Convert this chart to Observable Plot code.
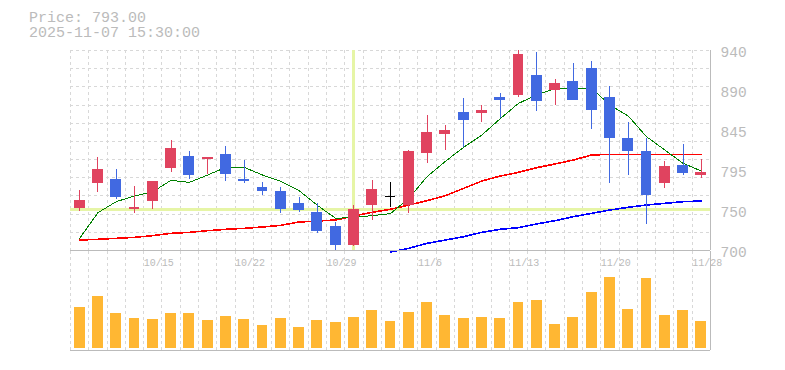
<!DOCTYPE html>
<html>
<head>
<meta charset="utf-8">
<script src="https://cdn.jsdelivr.net/npm/d3@7"></script>
<script src="https://cdn.jsdelivr.net/npm/@observablehq/plot@0.6"></script>
<style>
  html, body { margin: 0; padding: 0; background: #fff; }
  #wrap { position: relative; width: 785px; }
  #title { position: absolute; left: 29px; top: 11px; font-family: "Liberation Mono", monospace; font-size: 15px; line-height: 15px; color: #bbbbbb; white-space: pre; }
  svg { display: block; }
</style>
</head>
<body>
<div id="wrap">
  <div id="title">Price: 793.00
2025-11-07 15:30:00</div>
  <div id="price"></div>
  <div id="volume"></div>
</div>
<script>
// ---- data ----
const dates = ["10/8","10/9","10/10","10/14","10/15","10/16","10/17","10/20","10/21","10/22",
  "10/23","10/24","10/27","10/28","10/29","10/30","10/31","11/4","11/5","11/6",
  "11/7","11/10","11/11","11/12","11/13","11/14","11/17","11/18","11/19","11/20",
  "11/21","11/25","11/26","11/27","11/28"];
const open  = [750.2,780.2,785.8,749.2,758.6,798.2,813.4,809.0,815.8,785.4,
  776.2,771.4,757.0,746.2,729.4,705.8,753.8,765.4,753.8,816.6,
  839.8,866.2,864.2,884.2,885.8,910.6,892.6,903.4,919.0,884.2,
  835.0,819.4,780.2,802.6,789.8];
const close = [760.6,797.8,763.4,751.6,783.4,823.0,789.8,812.2,791.0,783.0,
  770.6,749.0,747.8,723.4,705.8,749.8,773.8,765.4,819.4,842.2,
  844.6,855.8,868.6,879.8,935.8,878.6,901.0,880.6,867.8,834.2,
  818.6,765.8,801.4,792.2,794.2];
const high  = [772.6,812.2,797.8,777.4,783.4,832.6,819.4,812.2,825.4,808.6,
  782.2,776.2,764.2,756.6,733.4,753.8,784.6,782.2,820.6,862.6,
  850.6,882.6,874.6,889.0,940.0,938.2,905.8,925.0,927.4,897.4,
  854.2,834.2,807.4,827.8,809.8];
const low   = [746.6,770.2,761.0,744.2,749.0,793.4,785.0,791.0,782.6,780.2,
  765.8,744.2,745.4,721.0,700.6,705.0,736.6,751.4,744.6,804.2,
  819.8,823.8,853.4,858.2,883.8,866.6,873.8,880.6,845.0,780.2,
  789.8,731.0,774.2,789.8,786.2];
const ma5   = [714.6,745.4,758.6,765.4,770.6,784.2,781.8,790.6,799.8,799.8,
  790.6,783.0,771.8,754.2,738.6,739.8,741.8,744.2,762.6,788.6,
  807.0,823.8,838.6,858.2,876.6,886.6,894.6,894.6,894.6,874.6,
  861.4,836.6,820.6,804.6,795.4];
const ma25  = [712.6,713.4,714.6,715.8,717.8,720.6,721.8,723.8,725.4,726.6,
  728.2,730.2,734.2,735.4,736.6,741.4,745.8,749.4,754.6,759.8,
  765.8,774.6,783.4,789.4,793.8,799.4,803.8,808.6,814.6,815.4,
  815.4,815.4,815.4,815.4,815.4];
const ma75  = [null,null,null,null,null,null,null,null,null,null,
  null,null,null,null,null,null,null,698.2,702.6,708.6,
  712.6,716.6,721.8,725.4,727.4,731.8,735.8,740.6,744.6,748.6,
  751.8,754.6,756.6,758.6,759.4];
const volume = [40.7,51.7,34.7,29.7,28.7,34.7,34.7,27.7,31.7,28.7,
  22.7,29.7,20.7,27.7,25.7,30.7,37.7,26.7,35.7,45.7,
  32.7,29.7,30.7,29.7,45.7,47.7,23.7,30.7,55.7,71.0,
  38.7,69.7,32.7,37.7,26.7]; // thousands of shares

const xTickIdx    = [4, 9, 14, 19, 24, 29, 34];
const xTickLabels = ["10/15","10/22","10/29","11/6","11/13","11/20","11/28"];
const yTickValues = [700, 748, 796, 844, 892, 940];
const yTickLabels = ["700","750","795","845","890","940"];
const yGrid = [700, 721.8, 743.6, 765.5, 787.3, 809.1, 830.9, 852.7, 874.5, 896.4, 918.2, 940];
const crossIdx = 15, crossPrice = 749.4;

// ---- table ----
const rows = dates.map((d, i) => ({
  i, date: d, open: open[i], close: close[i], high: high[i], low: low[i],
  ma5: ma5[i], ma25: ma25[i], ma75: ma75[i], volume: volume[i],
  color: close[i] > open[i] ? "#e0435f" : close[i] < open[i] ? "#4169e1" : "#000000"
}));
const xGrid = d3.range(dates.length + 1).map(k => k - 0.5);
const HW = 0.3; // half body width in index units
const gridColor = "#d8d8d8";
const frameColor = "#bbbbbb";

const xScale = {type: "linear", domain: [-0.5, dates.length - 0.5], axis: null};

const price = Plot.plot({
  width: 785, height: 251,
  marginTop: 50, marginBottom: 1, marginLeft: 70, marginRight: 75,
  x: xScale,
  y: {domain: [700, 940], axis: null},
  style: {fontFamily: "Liberation Mono, monospace", fontSize: "14.5px", color: "#bbbbbb", background: "#fff", overflow: "visible"},
  marks: [
    Plot.ruleY(yGrid, {stroke: gridColor, strokeDasharray: "3,3"}),
    Plot.ruleX(xGrid, {stroke: gridColor, strokeDasharray: "3,3"}),
    Plot.ruleX([crossIdx], {stroke: "#e6f5a6", strokeWidth: 3}),
    Plot.ruleY([crossPrice], {stroke: "#e6f5a6", strokeWidth: 3}),
    Plot.line(rows, {x: "i", y: "ma25", stroke: "#ff0000", strokeWidth: 1.6}),
    Plot.line(rows, {x: "i", y: "ma75", stroke: "#0000ff", strokeWidth: 1.6}),
    Plot.line(rows, {x: "i", y: "ma5", stroke: "#008000", strokeWidth: 1}),
    Plot.ruleX(rows, {x: "i", y1: "low", y2: "high", stroke: "color", strokeWidth: 1}),
    Plot.rect(rows.filter(d => d.open !== d.close), {x1: d => d.i - HW, x2: d => d.i + HW, y1: "open", y2: "close", fill: "color"}),
    Plot.ruleY(rows.filter(d => d.open === d.close), {y: "close", x1: d => d.i - HW, x2: d => d.i + HW, stroke: "color", strokeWidth: 1}),
    Plot.ruleX([dates.length - 0.5], {stroke: frameColor}),
    Plot.ruleY([700], {stroke: frameColor}),
    Plot.axisY(yTickValues, {anchor: "right", tickSize: 0, tickPadding: 10, textAnchor: "start", dy: 2,
      tickFormat: d => yTickLabels[yTickValues.indexOf(d)], fill: "#bbbbbb"})
  ]
});

const vol = Plot.plot({
  width: 785, height: 100,
  marginTop: 0, marginBottom: 1, marginLeft: 70, marginRight: 75,
  x: xScale,
  y: {domain: [0, 96.7], range: [96.7, 0], axis: null},
  style: {fontFamily: "Liberation Mono, monospace", fontSize: "10px", color: "#bbbbbb", background: "#fff", overflow: "visible"},
  marks: [
    Plot.ruleX(xGrid, {stroke: gridColor, strokeDasharray: "3,3"}),
    Plot.rect(rows, {x1: d => d.i - HW, x2: d => d.i + HW, y1: 0, y2: "volume", fill: "#ffb733"}),
    Plot.text(xTickIdx, {x: d => d - 0.5, text: (d, i) => xTickLabels[i], frameAnchor: "top", dy: 11, textAnchor: "start", lineAnchor: "middle", fill: "#bbbbbb"}),
    Plot.ruleX([dates.length - 0.5], {stroke: frameColor}),
    Plot.ruleY([0], {stroke: frameColor, dy: 2.3})
  ]
});

for (const svg of [price, vol]) svg.setAttribute("shape-rendering", "crispEdges");
document.getElementById("price").appendChild(price);
document.getElementById("volume").appendChild(vol);
</script>
</body>
</html>
